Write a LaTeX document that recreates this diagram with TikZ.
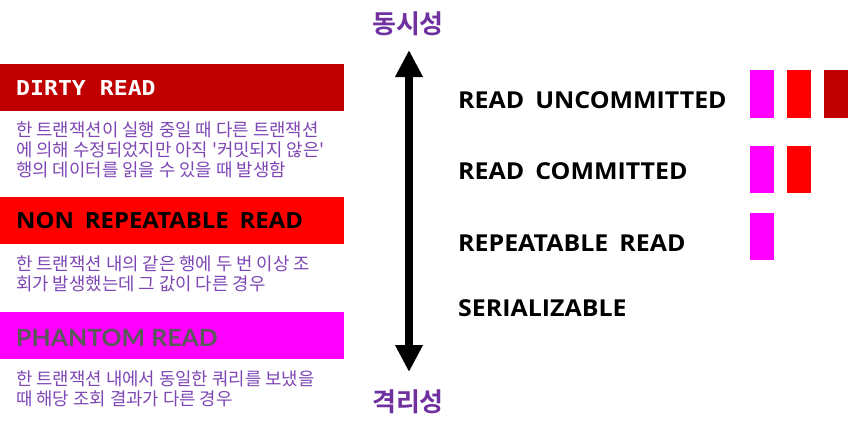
\documentclass[tikz,border=0pt]{standalone}
\usepackage{fontspec}
\usetikzlibrary{arrows.meta}
\newfontfamily\krfont{Noto Sans CJK KR}
\newfontfamily\krbold{Noto Sans CJK KR Bold}
\newfontfamily\lblfont{Open Sans Bold}[FakeStretch=1.07]
\newfontfamily\monofontb{DejaVu Sans Mono Bold}[FakeStretch=1.13]
\newfontfamily\latob{Lato Bold}[FakeStretch=1.05]
\newcommand\wsp{\hspace{11pt}}
\definecolor{dred}{HTML}{C00000}
\definecolor{bred}{HTML}{FF0000}
\definecolor{mag}{HTML}{FF00FF}
\definecolor{ttlpurple}{HTML}{7030A0}
\definecolor{descpurple}{RGB}{125,70,180}
\definecolor{phgray}{HTML}{595959}
\begin{document}
\begin{tikzpicture}[x=1pt,y=-1pt,
  hbox/.style={anchor=north west, minimum width=344pt, minimum height=46.5pt, inner sep=0pt, outer sep=0pt},
  htext/.style={anchor=base west, inner sep=0pt},
  desc/.style={anchor=base west, inner sep=0pt, align=left, text=descpurple, font=\krfont\fontsize{17.8}{20}\selectfont},
  lvl/.style={anchor=base west, inner sep=0pt, font=\lblfont\fontsize{23.3}{26}\selectfont},
  ttl/.style={inner sep=0pt, text=ttlpurple, font=\krbold\fontsize{26}{28}\selectfont},
  bar/.style={anchor=north west, minimum width=24pt, minimum height=47.5pt, inner sep=0pt, outer sep=0pt}
]
\useasboundingbox (0,0) rectangle (848,434);
% left boxes
\node[hbox, fill=dred] (dirty) at (0,64) {};
\node[htext, text=white, font=\monofontb\fontsize{20.5}{24}\selectfont] (dirtyt) at (16,95) {DIRTY READ};
\node[desc] (d1) at (16,176) {한 트랜잭션이 실행 중일 때 다른 트랜잭션\\에 의해 수정되었지만 아직 '커밋되지 않은'\\행의 데이터를 읽을 수 있을 때 발생함};
\node[hbox, fill=bred] (nonrep) at (0,197) {};
\node[htext, text=black, font=\lblfont\fontsize{22.3}{24}\selectfont] (nonrept) at (16,228) {NON\wsp REPEATABLE\wsp READ};
\node[desc] (d2) at (16,290.5) {한 트랜잭션 내의 같은 행에 두 번 이상 조\\회가 발생했는데 그 값이 다른 경우};
\node[hbox, fill=mag] (phantom) at (0,312) {};
\node[htext, text=phgray, font=\latob\fontsize{23.7}{26}\selectfont] (phantomt) at (16,346) {PHANTOM READ};
\node[desc] (d3) at (16,405.5) {한 트랜잭션 내에서 동일한 쿼리를 보냈을\\때 해당 조회 결과가 다른 경우};
% arrow
\node[ttl] (conc) at (408,24) {동시성};
\node[ttl] (isol) at (408,401.5) {격리성};
\coordinate (atop) at (409,50);
\coordinate (abot) at (409,372);
\draw[line width=8pt, {Triangle[width=26pt,length=27pt]}-{Triangle[width=26pt,length=27pt]}] (atop) -- (abot);
% levels
\node[lvl] (ru) at (458,108) {READ\wsp UNCOMMITTED};
\node[lvl] (rc) at (458,179) {READ\wsp COMMITTED};
\node[lvl] (rr) at (458,251.5) {REPEATABLE\wsp READ};
\node[lvl] (se) at (458,316.5) {SERIALIZABLE};
% bars
\node[bar, fill=mag] (b11) at (750,70) {};
\node[bar, fill=bred] (b12) at (787,70) {};
\node[bar, fill=dred] (b13) at (824,70) {};
\node[bar, fill=mag] (b21) at (750,145.5) {};
\node[bar, fill=bred] (b22) at (787,145.5) {};
\node[bar, fill=mag] (b31) at (750,212.5) {};
\end{tikzpicture}
\end{document}
